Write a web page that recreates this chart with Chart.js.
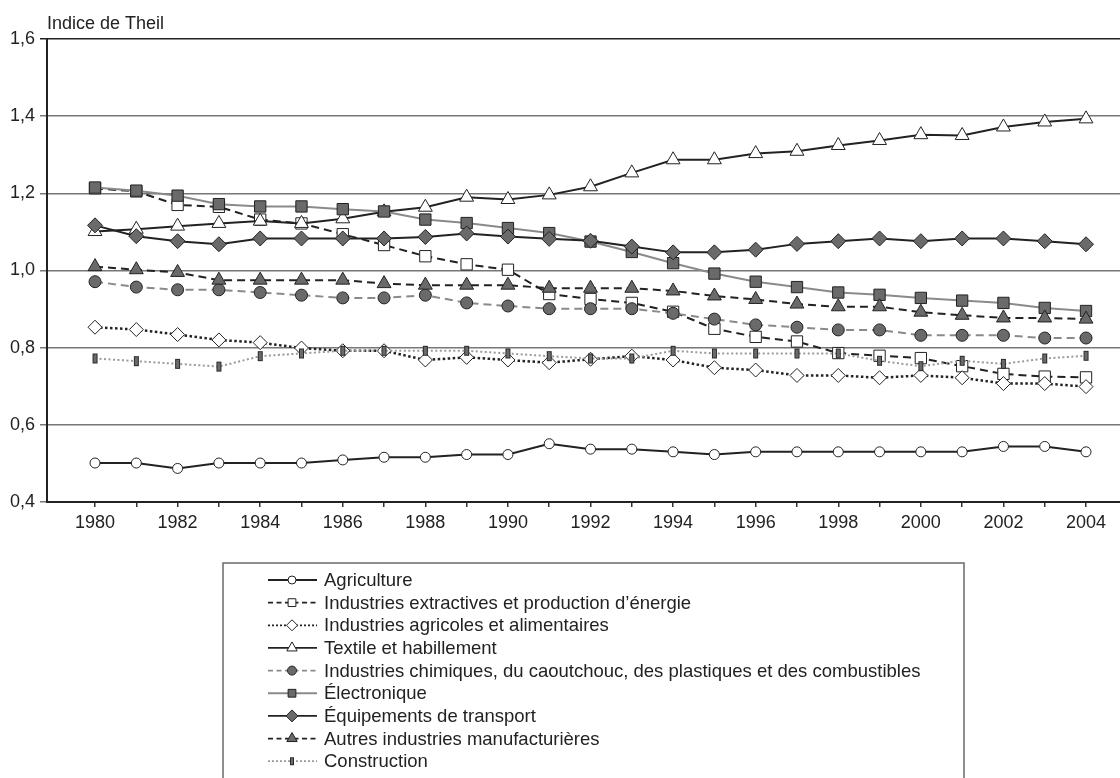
<!DOCTYPE html>
<html>
<head>
<meta charset="utf-8">
<script src="https://cdn.jsdelivr.net/npm/chart.js@4.4.1/dist/chart.umd.min.js"></script>
<style>
  html, body { margin: 0; padding: 0; background: #fff; }
  #wrap { width: 1120px; height: 778px; }
</style>
</head>
<body>
<div id="wrap"><canvas id="theilChart" width="1120" height="778"></canvas></div>
<script>
// =========================
// DATA
// =========================
const years = [1980, 1981, 1982, 1983, 1984, 1985, 1986, 1987, 1988, 1989, 1990, 1991, 1992,
  1993, 1994, 1995, 1996, 1997, 1998, 1999, 2000, 2001, 2002, 2003, 2004];

const yTicks = [0.4, 0.6, 0.8, 1.0, 1.2, 1.4, 1.6];

const seriesNames = [
  "Agriculture",
  "Industries extractives et production d\u2019énergie",
  "Industries agricoles et alimentaires",
  "Textile et habillement",
  "Industries chimiques, du caoutchouc, des plastiques et des combustibles",
  "Électronique",
  "Équipements de transport",
  "Autres industries manufacturières",
  "Construction"
];

const agriculture = [0.501, 0.501, 0.487, 0.501, 0.501, 0.501, 0.509, 0.516, 0.516, 0.523, 0.523, 0.551, 0.537,
  0.537, 0.530, 0.523, 0.530, 0.530, 0.530, 0.530, 0.530, 0.530, 0.544, 0.544, 0.530];

const extractives = [1.213, 1.205, 1.170, 1.165, 1.132, 1.122, 1.094, 1.066, 1.037, 1.016, 1.002, 0.939, 0.926,
  0.916, 0.893, 0.849, 0.828, 0.816, 0.786, 0.779, 0.773, 0.752, 0.732, 0.725, 0.723];

const agroAlim = [0.853, 0.847, 0.834, 0.820, 0.813, 0.799, 0.792, 0.792, 0.768, 0.775, 0.768, 0.761, 0.770,
  0.778, 0.768, 0.748, 0.742, 0.728, 0.728, 0.722, 0.728, 0.722, 0.707, 0.707, 0.699];

const textile = [1.101, 1.107, 1.115, 1.122, 1.128, 1.122, 1.134, 1.152, 1.164, 1.190, 1.184, 1.196, 1.217,
  1.253, 1.287, 1.287, 1.303, 1.309, 1.324, 1.337, 1.352, 1.350, 1.372, 1.385, 1.393];

const chimie = [0.971, 0.957, 0.950, 0.950, 0.943, 0.936, 0.929, 0.929, 0.936, 0.916, 0.908, 0.901, 0.901,
  0.901, 0.889, 0.874, 0.859, 0.853, 0.846, 0.846, 0.832, 0.832, 0.832, 0.825, 0.825];

const electronique = [1.215, 1.207, 1.194, 1.172, 1.166, 1.166, 1.159, 1.153, 1.132, 1.123, 1.110, 1.097, 1.075,
  1.048, 1.019, 0.992, 0.971, 0.957, 0.943, 0.937, 0.929, 0.922, 0.916, 0.903, 0.895];

const transport = [1.117, 1.089, 1.076, 1.068, 1.083, 1.083, 1.083, 1.083, 1.087, 1.096, 1.088, 1.082, 1.077,
  1.062, 1.047, 1.047, 1.054, 1.069, 1.076, 1.083, 1.076, 1.083, 1.083, 1.076, 1.068];

const autres = [1.010, 1.002, 0.995, 0.975, 0.975, 0.975, 0.975, 0.966, 0.962, 0.962, 0.962, 0.954, 0.954,
  0.954, 0.947, 0.934, 0.925, 0.913, 0.906, 0.906, 0.892, 0.884, 0.877, 0.877, 0.874];

const construction = [0.772, 0.765, 0.758, 0.751, 0.778, 0.785, 0.792, 0.792, 0.792, 0.792, 0.785, 0.778, 0.772,
  0.772, 0.792, 0.785, 0.785, 0.785, 0.785, 0.766, 0.752, 0.766, 0.758, 0.772, 0.779];

const allSeries = [agriculture, extractives, agroAlim, textile, chimie, electronique, transport, autres, construction];

// =========================
// STYLES
// =========================
const FONT = "'Liberation Sans', Arial, Helvetica, sans-serif";
const BLACK = "#222";
const GREY_FILL = "#6a6a6a";
const GREY_LINE = "#8a8a8a";

// small vertical bar used by "Construction"
function barMark(w, h) {
  const c = document.createElement("canvas");
  c.width = w + 2;
  c.height = h + 2;
  const g = c.getContext("2d");
  g.fillStyle = GREY_FILL;
  g.fillRect(1, 1, w, h);
  g.strokeStyle = "#2b2b2b";
  g.lineWidth = 1;
  g.strokeRect(1.5, 1.5, w - 1, h - 1);
  return c;
}

const styles = [
  { line: BLACK, dash: [], lw: 2, mark: "circle", fill: "#fff", r: 5, lr: 4, ldash: [] },
  { line: BLACK, dash: [8, 5], lw: 2, mark: "rect", fill: "#fff", r: 8, lr: 5.5, ldash: [5, 3.5] },
  { line: BLACK, dash: [2.5, 2.5], lw: 2.5, mark: "rectRot", fill: "#fff", r: 7, lr: 5.5, ldash: [2, 2] },
  { line: BLACK, dash: [], lw: 2, mark: "triangle", fill: "#fff", r: 8, lr: 6, ldash: [] },
  { line: GREY_LINE, dash: [8, 5], lw: 2, mark: "circle", fill: GREY_FILL, r: 6, lr: 4.5, ldash: [5, 3.5] },
  { line: GREY_LINE, dash: [], lw: 2, mark: "rect", fill: GREY_FILL, r: 8, lr: 5.5, ldash: [] },
  { line: BLACK, dash: [], lw: 2, mark: "rectRot", fill: GREY_FILL, r: 7.5, lr: 6, ldash: [] },
  { line: BLACK, dash: [8, 5], lw: 2, mark: "triangle", fill: GREY_FILL, r: 8, lr: 6, ldash: [5, 3.5] },
  { line: "#9a9a9a", dash: [2, 2.5], lw: 2, mark: barMark(5, 10), fill: GREY_FILL, r: 6, lr: 4,
    lmark: barMark(4, 8), ldash: [2, 2] }
];

// =========================
// PLUGINS
// =========================
const axisTitle = {
  id: "axisTitle",
  afterDraw(chart) {
    const ctx = chart.ctx;
    ctx.save();
    ctx.fillStyle = BLACK;
    ctx.font = "18px " + FONT;
    ctx.textBaseline = "alphabetic";
    ctx.fillText("Indice de Theil", chart.chartArea.left, 29);
    ctx.restore();
  }
};

const legendBox = {
  id: "legendBox",
  afterDraw(chart) {
    const ctx = chart.ctx;
    ctx.save();
    ctx.strokeStyle = "#6a6a6a";
    ctx.lineWidth = 1.5;
    ctx.beginPath();
    ctx.moveTo(223, 800);
    ctx.lineTo(223, 563);
    ctx.lineTo(964, 563);
    ctx.lineTo(964, 800);
    ctx.stroke();

    chart.data.datasets.forEach((ds, i) => {
      const st = styles[i];
      const y = 580 + i * 22.65;

      ctx.strokeStyle = st.line;
      ctx.lineWidth = 1.8;
      ctx.setLineDash(st.ldash);
      ctx.beginPath();
      ctx.moveTo(268, y);
      ctx.lineTo(317, y);
      ctx.stroke();
      ctx.setLineDash([]);

      ctx.fillStyle = st.fill;
      ctx.strokeStyle = BLACK;
      ctx.lineWidth = 1;
      Chart.helpers.drawPoint(ctx, {
        pointStyle: st.lmark || st.mark,
        radius: st.lr,
        rotation: 0,
        borderWidth: 1
      }, 292, y);

      ctx.fillStyle = BLACK;
      ctx.font = "18.5px " + FONT;
      ctx.textBaseline = "middle";
      ctx.fillText(ds.label, 324, y + 1);
    });
    ctx.restore();
  }
};

// =========================
// CHART
// =========================
const datasets = allSeries.map((vals, i) => {
  const st = styles[i];
  return {
    label: seriesNames[i],
    data: vals.map((v, k) => ({ x: years[k], y: v })),
    borderColor: st.line,
    borderWidth: st.lw,
    borderDash: st.dash,
    pointStyle: st.mark,
    pointRadius: st.r,
    pointHoverRadius: st.r,
    pointBackgroundColor: st.fill,
    pointBorderColor: BLACK,
    pointBorderWidth: 1,
    tension: 0,
    fill: false,
    order: -i
  };
});

const ctx = document.getElementById("theilChart").getContext("2d");

const theilChart = new Chart(ctx, {
  type: "line",
  data: { datasets },
  options: {
    responsive: false,
    animation: false,
    events: [],
    layout: { autoPadding: false, padding: { top: 39, right: 0, bottom: 236, left: 0 } },
    plugins: {
      legend: { display: false },
      tooltip: { enabled: false }
    },
    scales: {
      x: {
        type: "linear",
        min: 1978.837,
        max: 2004.823,
        afterBuildTicks: (scale) => {
          scale.ticks = years.map(v => ({ value: v }));
        },
        afterFit: (scale) => { scale.height = 40; },
        grid: {
          drawOnChartArea: false,
          drawTicks: true,
          tickLength: 5,
          color: "#333",
          lineWidth: 1.5
        },
        border: { display: true, color: BLACK, width: 2 },
        ticks: {
          autoSkip: false,
          maxRotation: 0,
          padding: 5,
          color: BLACK,
          font: { family: FONT, size: 18 },
          callback: (v) => (v % 2 === 0 ? String(v) : "")
        }
      },
      y: {
        min: 0.4,
        max: 1.6,
        afterBuildTicks: (scale) => {
          scale.ticks = yTicks.map(v => ({ value: v }));
        },
        afterFit: (scale) => { scale.width = 47; },
        grid: {
          drawTicks: true,
          tickLength: 7,
          lineWidth: 1.5,
          color: (c) => (Math.abs(c.tick.value - 1.6) < 1e-6 ? BLACK : "#777")
        },
        border: { display: true, color: BLACK, width: 2 },
        ticks: {
          padding: 5,
          color: BLACK,
          font: { family: FONT, size: 18 },
          callback: (v) => v.toFixed(1).replace(".", ",")
        }
      }
    }
  },
  plugins: [axisTitle, legendBox]
});
</script>
</body>
</html>
